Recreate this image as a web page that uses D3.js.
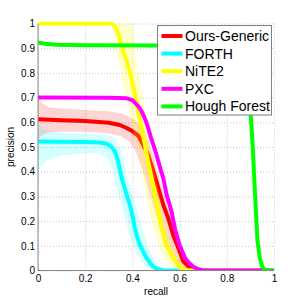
<!DOCTYPE html>
<html>
<head>
<meta charset="utf-8">
<script src="https://cdn.jsdelivr.net/npm/d3@7"></script>
<style>
  body { margin: 0; background: #fff; }
  svg { display: block; font-family: 'Liberation Sans', Arial, sans-serif; }
  .grid line { stroke: #c8c8c8; stroke-dasharray: 1,2; }
  .grid .domain { display: none; }
  .axis text { fill: #000; font-size: 10px; }
  .axis .domain { stroke: #888; }
  .axis line { display: none; }
</style>
</head>
<body>
<svg id="chart" width="299" height="301"></svg>
<script>
// Method names and colours, in drawing order
const methods = ['Ours-Generic', 'FORTH', 'NiTE2', 'PXC', 'Hough Forest'];
const colors = ['#ff0000', '#00ffff', '#ffff00', '#ff00ff', '#00ff00'];

const xTicks = [0, 0.2, 0.4, 0.6, 0.8, 1];
const yTicks = [0, 0.1, 0.2, 0.3, 0.4, 0.5, 0.6, 0.7, 0.8, 0.9, 1];

// [recall, precision] mean curves
const oursGeneric = [[0,0.612],[0.05,0.61],[0.1,0.608],[0.2,0.605],[0.3,0.598],[0.347,0.589],[0.38,0.575],[0.404,0.562],[0.425,0.545],[0.439,0.521],[0.453,0.495],[0.467,0.467],[0.478,0.435],[0.489,0.4],[0.5,0.366],[0.51,0.333],[0.52,0.3],[0.531,0.265],[0.552,0.211],[0.573,0.144],[0.595,0.09],[0.616,0.036],[0.644,0.009],[0.672,0],[1,0]];
const forth = [[0,0.522],[0.1,0.521],[0.2,0.52],[0.263,0.518],[0.29,0.513],[0.305,0.506],[0.316,0.495],[0.326,0.481],[0.333,0.462],[0.34,0.441],[0.347,0.407],[0.355,0.373],[0.365,0.34],[0.376,0.306],[0.387,0.272],[0.397,0.238],[0.404,0.204],[0.411,0.17],[0.42,0.136],[0.432,0.103],[0.446,0.075],[0.46,0.05],[0.475,0.03],[0.489,0.015],[0.51,0.005],[0.53,0],[1,0]];
const nite2 = [[0,1],[0.31,1],[0.325,0.99],[0.335,0.97],[0.35,0.93],[0.36,0.89],[0.375,0.85],[0.39,0.8],[0.4,0.76],[0.411,0.713],[0.425,0.643],[0.439,0.576],[0.453,0.508],[0.467,0.441],[0.482,0.373],[0.496,0.306],[0.51,0.238],[0.524,0.17],[0.545,0.103],[0.573,0.05],[0.6,0.015],[0.623,0.002],[0.64,0],[1,0]];
const pxc = [[0,0.7],[0.3,0.699],[0.376,0.697],[0.4,0.69],[0.418,0.672],[0.433,0.655],[0.446,0.63],[0.457,0.605],[0.467,0.576],[0.478,0.54],[0.489,0.508],[0.5,0.475],[0.51,0.441],[0.52,0.407],[0.531,0.373],[0.545,0.306],[0.556,0.272],[0.566,0.238],[0.58,0.17],[0.59,0.135],[0.6,0.103],[0.612,0.075],[0.623,0.05],[0.64,0.03],[0.658,0.015],[0.68,0.005],[0.7,0],[1,0]];
const houghForest = [[0,0.923],[0.03,0.918],[0.08,0.914],[0.2,0.912],[0.5,0.911],[0.89,0.91],[0.895,0.8],[0.9,0.65],[0.91,0.5],[0.92,0.3],[0.93,0.12],[0.94,0.05],[0.95,0.015],[0.96,0.003],[0.975,0],[1,0]];

// error bands: outer (upper/right) and inner (lower/left) edges
const oursUpper = [[0,0.7],[0.02,0.675],[0.05,0.66],[0.1,0.655],[0.2,0.65],[0.3,0.645],[0.36,0.635],[0.41,0.61],[0.445,0.575],[0.47,0.52],[0.49,0.46],[0.51,0.39],[0.53,0.32],[0.55,0.26],[0.57,0.2],[0.59,0.14],[0.615,0.085],[0.64,0.04],[0.67,0.012],[0.7,0]];
const oursLower = [[0,0.53],[0.02,0.55],[0.05,0.56],[0.1,0.563],[0.2,0.562],[0.3,0.555],[0.35,0.545],[0.39,0.52],[0.415,0.48],[0.435,0.43],[0.455,0.37],[0.47,0.32],[0.49,0.26],[0.51,0.2],[0.53,0.14],[0.55,0.095],[0.575,0.05],[0.6,0.018],[0.63,0]];
const forthUpper = [[0,0.6],[0.02,0.575],[0.05,0.563],[0.1,0.557],[0.2,0.555],[0.28,0.552],[0.31,0.545],[0.33,0.53],[0.35,0.49],[0.365,0.44],[0.375,0.39],[0.39,0.34],[0.405,0.29],[0.42,0.24],[0.435,0.19],[0.45,0.14],[0.465,0.1],[0.48,0.065],[0.5,0.035],[0.52,0.015],[0.55,0.003],[0.57,0]];
const forthLower = [[0,0.405],[0.03,0.44],[0.06,0.455],[0.1,0.465],[0.2,0.475],[0.25,0.475],[0.28,0.465],[0.3,0.445],[0.315,0.41],[0.325,0.37],[0.335,0.33],[0.35,0.28],[0.365,0.23],[0.375,0.19],[0.39,0.14],[0.405,0.1],[0.42,0.065],[0.44,0.035],[0.46,0.015],[0.49,0.003],[0.51,0]];
const nite2Upper = [[0,1],[0.4,1],[0.41,0.9],[0.43,0.78],[0.445,0.7],[0.46,0.6],[0.475,0.5],[0.49,0.42],[0.505,0.35],[0.52,0.28],[0.535,0.21],[0.555,0.14],[0.575,0.09],[0.6,0.045],[0.63,0.015],[0.66,0]];
const nite2Lower = [[0,1],[0.31,1],[0.32,0.96],[0.33,0.9],[0.345,0.83],[0.36,0.76],[0.375,0.7],[0.39,0.63],[0.405,0.56],[0.42,0.49],[0.435,0.42],[0.45,0.35],[0.465,0.28],[0.48,0.21],[0.495,0.15],[0.515,0.09],[0.54,0.045],[0.57,0.015],[0.6,0]];

const curves = [oursGeneric, forth, nite2, pxc, houghForest];
const bands = [[oursUpper, oursLower], [forthUpper, forthLower], [nite2Upper, nite2Lower], null, null];

const svg = d3.select('#chart');
const margin = {left: 38, right: 25, top: 23.5, bottom: 30.5};
const width = 299 - margin.left - margin.right;
const height = 301 - margin.top - margin.bottom;

const g = svg.append('g')
  .attr('transform', `translate(${margin.left},${margin.top})`);

const xScale = d3.scaleLinear().domain([0, 1]).range([0, width]);
const yScale = d3.scaleLinear().domain([0, 1]).range([height, 0]);

// dotted grid
g.append('g').attr('class', 'grid')
  .attr('transform', `translate(0,${height})`)
  .call(d3.axisBottom(xScale).tickValues(xTicks).tickSize(-height).tickFormat(''));
g.append('g').attr('class', 'grid')
  .call(d3.axisLeft(yScale).tickValues(yTicks).tickSize(-width).tickFormat(''));

g.append('clipPath').attr('id', 'plot-clip')
  .append('rect').attr('x', 0).attr('y', -2).attr('width', width + 2).attr('height', height + 2);

const plot = g.append('g').attr('clip-path', 'url(#plot-clip)');

const line = d3.line()
  .x(d => xScale(d[0]))
  .y(d => yScale(d[1]));

// each method: shaded band, then its mean line on top
curves.forEach((c, i) => {
  if (bands[i]) {
    const poly = bands[i][0].concat(bands[i][1].slice().reverse());
    plot.append('path')
      .attr('d', line(poly) + 'Z')
      .attr('fill', colors[i])
      .attr('fill-opacity', i === 2 ? 0.2 : 0.17)
      .attr('stroke', 'none');
  }
  plot.append('path')
    .attr('d', line(c))
    .attr('fill', 'none')
    .attr('stroke', colors[i])
    .attr('stroke-width', 4)
    .attr('stroke-linejoin', 'round');
});

// axes
const xAxisG = g.append('g').attr('class', 'axis')
  .attr('transform', `translate(0,${height})`)
  .call(d3.axisBottom(xScale).tickValues(xTicks).tickSize(0).tickPadding(4)
    .tickFormat(d3.format('')));
const yAxisG = g.append('g').attr('class', 'axis')
  .call(d3.axisLeft(yScale).tickValues(yTicks).tickSize(0).tickPadding(3)
    .tickFormat(d3.format('')));
xAxisG.select('.domain').attr('d', `M0,0H${width}`);
yAxisG.select('.domain').attr('d', `M0,${height}V0`);

g.append('text')
  .attr('x', width / 2)
  .attr('y', height + 24)
  .attr('text-anchor', 'middle')
  .style('font-size', '10px')
  .text('recall');
g.append('text')
  .attr('transform', 'rotate(-90)')
  .attr('x', -height / 2)
  .attr('y', -24)
  .attr('text-anchor', 'middle')
  .style('font-size', '10px')
  .text('precision');

// legend
const legend = svg.append('g').attr('transform', 'translate(157.5,25.5)');
legend.append('rect')
  .attr('width', 114)
  .attr('height', 89.5)
  .attr('fill', '#fff')
  .attr('stroke', '#7f7f7f');
methods.forEach((m, i) => {
  const cy = 10.5 + i * 17.6;
  legend.append('line')
    .attr('x1', 4).attr('x2', 25)
    .attr('y1', cy).attr('y2', cy)
    .attr('stroke', colors[i])
    .attr('stroke-width', 4);
  legend.append('text')
    .attr('x', 27.5)
    .attr('y', cy + 5)
    .style('font-size', '14px')
    .text(m);
});
</script>
</body>
</html>
